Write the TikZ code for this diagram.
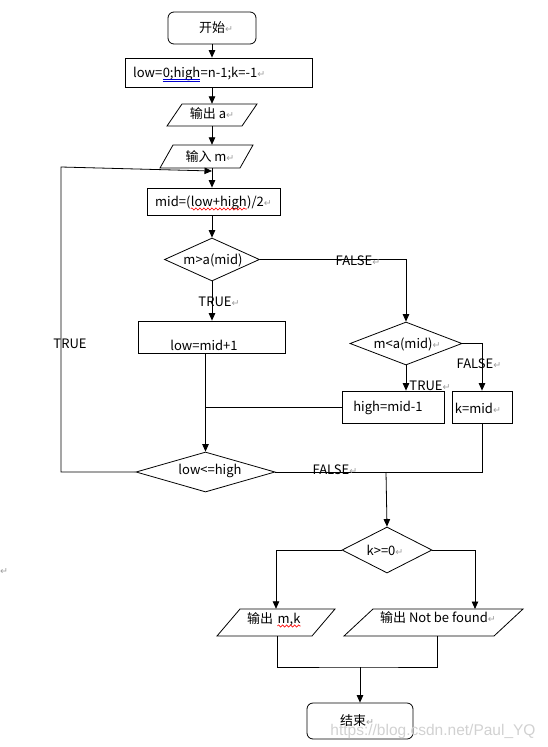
\documentclass[tikz,border=0pt]{standalone}
\usepackage{fontspec}
\setmainfont{Noto Sans CJK SC}
\newfontfamily\dejavu{DejaVu Sans}
\newfontfamily\wmfont{Liberation Sans}
\usetikzlibrary{shapes.geometric,arrows.meta,decorations.pathmorphing}
\newcommand\mainsz{\fontsize{13}{15}\selectfont}
\newcommand\parmark{{\dejavu\fontsize{9.5}{9.5}\selectfont\textcolor{black!38}{↵}}}
\begin{document}
\begin{tikzpicture}[x=1pt,y=-1pt,
  ln/.style={line width=0.8pt, draw=black},
  arr/.style={ln, -{Triangle[width=6.5pt,length=7.5pt]}},
  box/.style={draw, line width=0.8pt, rectangle, inner sep=0pt},
  rbox/.style={box, rounded corners=6pt},
  dia/.style={draw, line width=0.8pt, diamond, inner sep=0pt},
  anc/.style={rectangle, inner sep=0pt},
  para/.style={line width=0.8pt, draw=black},
  txt/.style={inner sep=0pt, font=\mainsz},
  wave/.style={draw=red, line width=0.6pt, decorate, decoration={snake, amplitude=1.1pt, segment length=4pt}},
  dul/.style={draw=blue!80!black, line width=0.6pt}]
\useasboundingbox (0,0) rectangle (547,747);

% shapes
\node[rbox, minimum width=88pt, minimum height=32pt] (start) at (212,28) {};
\node[box, minimum width=187pt, minimum height=29pt] (init) at (218.5,72.5) {};
\node[anc, minimum width=75pt, minimum height=22pt] (outa) at (212,115) {};
\draw[para] (182,104) -- (257,104) -- (242,126) -- (167,126) -- cycle;
\node[anc, minimum width=80pt, minimum height=23pt] (inm) at (206.5,156.5) {};
\draw[para] (173,145) -- (253,145) -- (240,168) -- (160,168) -- cycle;
\node[box, minimum width=133pt, minimum height=27pt] (mid) at (213.5,201.5) {};
\node[dia, minimum width=95pt, minimum height=43pt, shape aspect=2.2] (d1) at (212,259.5) {};
\node[box, minimum width=147pt, minimum height=32pt] (low1) at (211.5,337) {};
\node[dia, minimum width=112pt, minimum height=43pt, shape aspect=2.6] (d2) at (406,343.5) {};
\node[box, minimum width=102pt, minimum height=32pt] (high) at (393,407) {};
\node[box, minimum width=60pt, minimum height=32pt] (kmid) at (482,407) {};
\node[dia, minimum width=139pt, minimum height=40pt, shape aspect=3.4] (d3) at (205.5,472) {};
\node[dia, minimum width=90pt, minimum height=46pt, shape aspect=2] (d4) at (387,550) {};
\node[anc, minimum width=95pt, minimum height=27pt] (outmk) at (276,622.5) {};
\draw[para] (240,609) -- (335,609) -- (312,636) -- (217,636) -- cycle;
\node[anc, minimum width=150pt, minimum height=27pt] (outnf) at (433.5,622.5) {};
\draw[para] (373,609) -- (523,609) -- (494,636) -- (344,636) -- cycle;
\node[rbox, minimum width=106pt, minimum height=36pt] (end) at (360,721) {};

% coordinates
\coordinate (col) at (212,0);
\coordinate (loopin) at (212,171);
\coordinate (lcorner) at (61,167);
\coordinate (jn) at (386,472);
\coordinate (nfin) at (475,609);
\coordinate (nfout) at (437,636);
\coordinate (mkout) at (277,636);
\coordinate (mg) at (360,667);

% texts
\node[txt] (tstart) at (216,28) {开始\parmark};
\node[txt, anchor=base west] (ti1) at (133,77) {low=};
\node[txt, anchor=base west] (ti2) at (ti1.base east) {0;high};
\node[txt, anchor=base west] (ti3) at (ti2.base east) {=n-1;k=-1\parmark};
\draw[dul] ([yshift=-2pt]ti2.base west) -- ([yshift=-2pt]ti2.base east);
\draw[dul] ([yshift=-3.8pt]ti2.base west) -- ([yshift=-3.8pt]ti2.base east);
\node[txt] (touta) at (212,114) {输出 a\parmark};
\node[txt] (tinm) at (210,156.5) {输入 m\parmark};
\node[txt, anchor=base west] (tm1) at (155,206) {mid=(};
\node[txt, anchor=base west] (tm2) at (tm1.base east) {low+high};
\node[txt, anchor=base west] (tm3) at (tm2.base east) {)/2\parmark};
\draw[wave] ([yshift=-3pt]tm2.base west) -- ([yshift=-3pt]tm2.base east);
\node[txt] (td1) at (213,260) {m>a(mid)};
\node[txt] (tlow1) at (204,345) {low=mid+1};
\node[txt] (td2) at (407,344) {m<a(mid)\parmark};
\node[txt] (thigh) at (388,408) {high=mid-1};
\node[txt] (tkmid) at (478,408) {k=mid\parmark};
\node[txt] (td3) at (210,471) {low<=high};
\node[txt] (td4) at (385,550) {k>=0\parmark};
\node[txt, anchor=base west] (tmk1) at (247,623) {输出\kern4pt};
\node[txt, anchor=base west] (tmk2) at (tmk1.base east) {m,k};
\draw[wave] ([yshift=-3pt]tmk2.base west) -- ([yshift=-3pt]tmk2.base east);
\node[txt] (tnf) at (438,617.5) {输出 Not be found\parmark};
\node[txt] (tend) at (357,721) {结束\parmark};

% connectors
\draw[arr] (start.south) -- (start.south |- init.north);
\draw[arr] (outa.north |- init.south) -- (outa.north);
\draw[arr] (outa.south) -- (outa.south |- inm.north);
\draw[arr] (col |- inm.south) -- (col |- mid.north);
\draw[arr] (d3.west) -| (lcorner) -- (loopin);
\draw[arr] (col |- mid.south) -- (d1.north);
\draw[arr] (d1.south) -- (d1.south |- low1.north);
\draw[arr] (d1.east) -| (d2.north);
\draw[arr] (d2.south) -- (d2.south |- high.north);
\draw[arr] (d2.east) -| (kmid.north);
\draw[ln] (high.west) -- (high.west -| d3.north);
\draw[arr] (low1.south -| d3.north) -- (d3.north);
\draw[ln] (d3.east) -- (jn);
\draw[ln] (kmid.south) |- (jn);
\draw[arr] (jn) -- (d4.north);
\draw[arr] (d4.west) -| (outmk.north);
\draw[arr] (d4.east) -| (nfin);
\draw[ln] (mkout) |- (mg) -| (nfout);
\draw[arr] (mg) -- (end.north);

% branch labels
\node[txt] (lf1) at (358,261) {FALSE\parmark};
\node[txt] (lt1) at (219,302) {TRUE\parmark};
\node[txt] (lt0) at (70,344) {TRUE};
\node[txt] (lt2) at (430,386) {TRUE\parmark};
\node[txt] (lf2) at (479,364) {FALSE\parmark};
\node[txt] (lf3) at (335,470) {FALSE\parmark};

% stray mark and watermark
\node[txt] (stray) at (4,572) {\parmark};
\node[inner sep=0pt, font=\wmfont\fontsize{15.5}{16}\selectfont, text=black!18] (wm) at (433,731) {https://blog.csdn.net/Paul\_YQ};
\end{tikzpicture}
\end{document}
